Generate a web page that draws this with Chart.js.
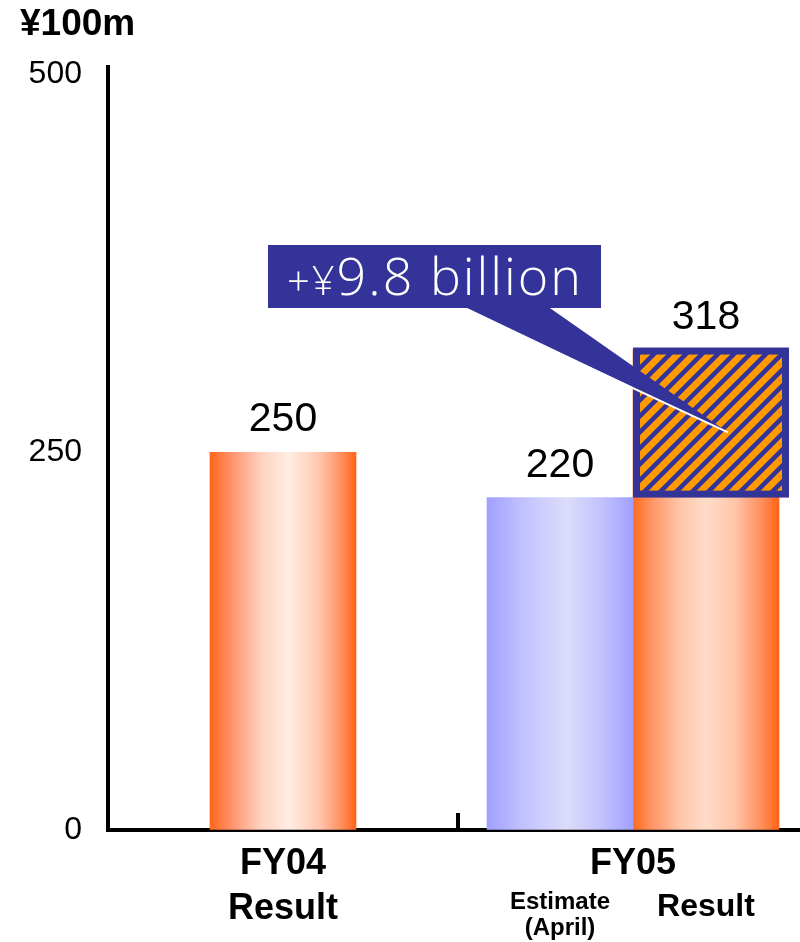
<!DOCTYPE html>
<html>
<head>
<meta charset="utf-8">
<script src="https://cdn.jsdelivr.net/npm/chart.js@4.4.0/dist/chart.umd.min.js"></script>
<style>
  html, body { margin: 0; padding: 0; background: #fff; overflow: hidden; }
  #wrap { width: 800px; height: 942px; overflow: hidden; }
</style>
</head>
<body>
<div id="wrap"><canvas id="sales-chart" width="808" height="942"></canvas></div>
<script>
"use strict";

// global
Chart.defaults.font.family = "'Liberation Sans', Arial, sans-serif";
Chart.defaults.color = "#000";

var categories = ["FY04", "FY05"];
var estimateValues = [null, 220];
var resultValues = [250, 318];
var estimateNotes = [null, ["Estimate", "(April)"]];
var resultNotes = [["Result"], ["Result"]];
var yTicks = [0, 250, 500];
var unitLabel = "¥100m";
var calloutText = ["+¥", "9.8 billion"];

var blue = "#333399";

// horizontal "cylinder" shading for the bars
var estimateStops = [[[0, "#a0a0ff"], [0.25, "#c2c2fd"], [0.55, "#dcdcfb"], [0.8, "#c0c0fd"], [1, "#a0a0ff"]]];
var resultStops = [
  [[0, "#ff661a"], [0.14, "#ff9068"], [0.35, "#ffd2bf"], [0.54, "#ffede4"], [0.75, "#ffc6ae"], [0.9, "#ff8f5e"], [1, "#ff6414"]],
  [[0, "#ff6a1f"], [0.14, "#ff9868"], [0.33, "#ffc7ac"], [0.5, "#ffdcc8"], [0.7, "#ffc5a9"], [0.88, "#ff8e5c"], [1, "#ff6414"]]
];

function barFill(stopsList) {
  return function (c) {
    var chart = c.chart;
    var stops = stopsList[c.dataIndex] || stopsList[0];
    var el = chart.getDatasetMeta(c.datasetIndex).data[c.dataIndex];
    if (!el || !isFinite(el.x) || !el.width) {
      return stops[0][1];
    }
    var g = chart.ctx.createLinearGradient(el.x - el.width / 2, 0, el.x + el.width / 2, 0);
    stops.forEach(function (s) { g.addColorStop(s[0], s[1]); });
    return g;
  };
}

function makeHatch(ctx) {
  var n = 16;
  var p = document.createElement("canvas");
  p.width = n;
  p.height = n;
  var c = p.getContext("2d");
  c.fillStyle = "#ff9900";
  c.fillRect(0, 0, n, n);
  c.strokeStyle = blue;
  c.lineWidth = 4.5;
  c.beginPath();
  c.moveTo(-n / 2, n / 2); c.lineTo(n / 2, -n / 2);
  c.moveTo(0, n); c.lineTo(n, 0);
  c.moveTo(n / 2, n * 1.5); c.lineTo(n * 1.5, n / 2);
  c.stroke();
  return ctx.createPattern(p, "repeat");
}

var decorations = {
  id: "decorations",
  afterDatasetsDraw: function (chart) {
    var ctx = chart.ctx;
    var y = chart.scales.y;
    var est = chart.getDatasetMeta(0).data;
    var res = chart.getDatasetMeta(1).data;

    // hatched increase box on the FY05 result bar
    var bar = res[1];
    var left = bar.x - bar.width / 2;
    var top = y.getPixelForValue(resultValues[1]) - 2;
    var bottom = y.getPixelForValue(estimateValues[1]);
    var w = bar.width + 10;
    ctx.save();
    ctx.fillStyle = blue;
    ctx.fillRect(left, top, w, bottom - top);
    ctx.fillStyle = makeHatch(ctx);
    ctx.fillRect(left + 7, top + 7, w - 14, bottom - top - 14);
    ctx.restore();

    // value labels
    ctx.save();
    ctx.font = "41px 'Liberation Sans', Arial, sans-serif";
    ctx.fillStyle = "#000";
    ctx.textAlign = "center";
    ctx.textBaseline = "alphabetic";
    [[est, estimateValues], [res, resultValues]].forEach(function (pair) {
      pair[1].forEach(function (v, i) {
        if (v === null) return;
        var el = pair[0][i];
        ctx.fillText(String(v), el.x, el.y - 21);
      });
    });
    ctx.restore();

    // callout
    var tipX = bar.x + 22;
    var tipY = y.getPixelForValue(estimateValues[1] + (resultValues[1] - estimateValues[1]) * 0.44);
    ctx.save();
    ctx.fillStyle = blue;
    ctx.beginPath();
    ctx.moveTo(463, 306);
    ctx.lineTo(547, 306);
    ctx.lineTo(tipX, tipY);
    ctx.closePath();
    ctx.fill();
    ctx.strokeStyle = "#fff";
    ctx.lineWidth = 2;
    ctx.beginPath();
    ctx.moveTo(463, 309);
    ctx.lineTo(tipX, tipY);
    ctx.stroke();
    ctx.fillStyle = blue;
    ctx.fillRect(268, 245, 333, 63);

    ctx.fillStyle = "#fff";
    ctx.textBaseline = "alphabetic";
    ctx.textAlign = "left";
    ctx.letterSpacing = "2px";
    var f1 = "300 40px 'Open Sans', sans-serif";
    var f2 = "300 52px 'Open Sans', sans-serif";
    ctx.font = f1;
    var w1 = ctx.measureText(calloutText[0]).width;
    ctx.font = f2;
    var w2 = ctx.measureText(calloutText[1]).width;
    var sx = 435 - (w1 + w2) / 2;
    ctx.font = f1;
    ctx.fillText(calloutText[0], sx, 295);
    ctx.font = f2;
    ctx.fillText(calloutText[1], sx + w1, 295);
    ctx.restore();
  },
  afterDraw: function (chart) {
    var ctx = chart.ctx;
    var x = chart.scales.x;
    var area = chart.chartArea;
    ctx.save();

    // unit
    ctx.font = "bold 37px 'Liberation Sans', Arial, sans-serif";
    ctx.fillStyle = "#000";
    ctx.textAlign = "left";
    ctx.textBaseline = "alphabetic";
    ctx.fillText(unitLabel, 20, 35);

    // tick between the two years
    var mid = (x.getPixelForValue(0) + x.getPixelForValue(1)) / 2;
    ctx.fillStyle = "#000";
    ctx.fillRect(mid - 2, area.bottom - 17, 4, 17);

    // notes under each bar
    ctx.textAlign = "center";
    var metas = [chart.getDatasetMeta(0), chart.getDatasetMeta(1)];
    var notes = [estimateNotes, resultNotes];
    var values = [estimateValues, resultValues];
    categories.forEach(function (cat, i) {
      var count = values.filter(function (vals) { return vals[i] !== null; }).length;
      notes.forEach(function (list, d) {
        var lines = list[i];
        if (!lines || values[d][i] === null) return;
        var size = lines.length > 1 ? 24 : (count > 1 ? 32 : 36);
        ctx.font = "bold " + size + "px 'Liberation Sans', Arial, sans-serif";
        var el = metas[d].data[i];
        var base = 890 + size * 0.8;
        lines.forEach(function (t, k) {
          ctx.fillText(t, el.x, base + k * size * 1.08);
        });
      });
    });
    ctx.restore();
  }
};

var ctx1 = document.getElementById("sales-chart").getContext("2d");

var salesChart = new Chart(ctx1, {
  type: "bar",
  data: {
    labels: categories,
    datasets: [
      {
        label: "Estimate",
        data: estimateValues,
        backgroundColor: barFill(estimateStops),
        borderWidth: 0,
        barThickness: 146,
        skipNull: true,
      },
      {
        label: "Result",
        data: resultValues,
        backgroundColor: barFill(resultStops),
        borderWidth: 0,
        barThickness: 146,
        skipNull: true,
      },
    ],
  },
  options: {
    responsive: false,
    animation: false,
    devicePixelRatio: 1,
    layout: { padding: { top: 67, left: 0, right: 0, bottom: 0 } },
    plugins: {
      legend: { display: false },
      tooltip: { enabled: false },
    },
    scales: {
      x: {
        grid: { display: true, drawOnChartArea: false, drawTicks: false },
        border: { color: "#000", width: 4 },
        ticks: {
          font: { size: 36, weight: "bold" },
          padding: 12,
          color: "#000",
        },
        afterFit: function (s) { s.height = 112; },
      },
      y: {
        min: 0,
        max: 505,
        grid: { display: true, drawOnChartArea: false, drawTicks: false },
        border: { color: "#000", width: 4 },
        ticks: {
          font: { size: 32 },
          padding: 26,
          color: "#000",
        },
        afterBuildTicks: function (s) {
          s.ticks = yTicks.map(function (v) { return { value: v }; });
        },
        afterFit: function (s) { s.width = 108; },
      },
    },
  },
  plugins: [decorations],
});

// second pass so the bar gradients know where the bars are
salesChart.update();
</script>
</body>
</html>
